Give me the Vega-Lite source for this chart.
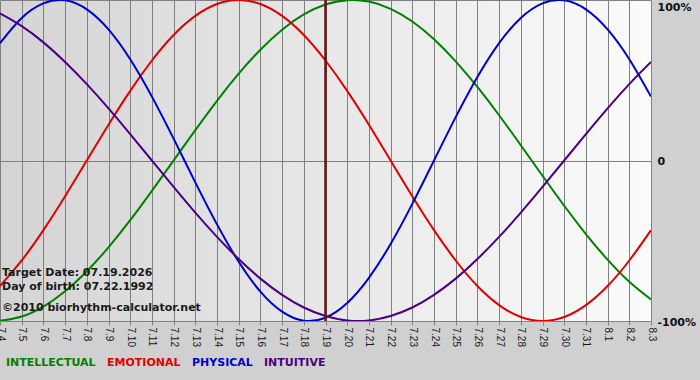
{
  "$schema": "https://vega.github.io/schema/vega-lite/v6.json",
  "width": 651,
  "height": 321,
  "autosize": {"type": "none"},
  "padding": {"left": 0, "top": 0, "right": 49, "bottom": 59},
  "background": "#d0d0d0",
  "config": {
    "view": {
      "stroke": null,
      "fill": {"gradient": "linear", "x1": 0, "x2": 1, "y1": 0, "y2": 0,
        "stops": [{"offset": 0, "color": "#d4d4d4"}, {"offset": 1, "color": "#fbfbfb"}]}
    },
    "font": "DejaVu Sans"
  },
  "data": {
    "values": [
      {"day": "7.4", "INTELLECTUAL": -99.9, "EMOTIONAL": -78.2, "PHYSICAL": 73.1, "INTUITIVE": 91.6},
      {"day": "7.5", "INTELLECTUAL": -97.2, "EMOTIONAL": -62.3, "PHYSICAL": 88.8, "INTUITIVE": 83.7},
      {"day": "7.6", "INTELLECTUAL": -91.0, "EMOTIONAL": -43.4, "PHYSICAL": 97.9, "INTUITIVE": 73.6},
      {"day": "7.7", "INTELLECTUAL": -81.5, "EMOTIONAL": -22.3, "PHYSICAL": 99.8, "INTUITIVE": 61.4},
      {"day": "7.8", "INTELLECTUAL": -69.0, "EMOTIONAL": 0, "PHYSICAL": 94.2, "INTUITIVE": 47.6},
      {"day": "7.9", "INTELLECTUAL": -54.1, "EMOTIONAL": 22.3, "PHYSICAL": 81.7, "INTUITIVE": 32.5},
      {"day": "7.10", "INTELLECTUAL": -37.2, "EMOTIONAL": 43.4, "PHYSICAL": 63.1, "INTUITIVE": 16.5},
      {"day": "7.11", "INTELLECTUAL": -18.9, "EMOTIONAL": 62.3, "PHYSICAL": 39.8, "INTUITIVE": 0},
      {"day": "7.12", "INTELLECTUAL": 0, "EMOTIONAL": 78.2, "PHYSICAL": 13.6, "INTUITIVE": -16.5},
      {"day": "7.13", "INTELLECTUAL": 18.9, "EMOTIONAL": 90.1, "PHYSICAL": -13.6, "INTUITIVE": -32.5},
      {"day": "7.14", "INTELLECTUAL": 37.2, "EMOTIONAL": 97.5, "PHYSICAL": -39.8, "INTUITIVE": -47.6},
      {"day": "7.15", "INTELLECTUAL": 54.1, "EMOTIONAL": 100, "PHYSICAL": -63.1, "INTUITIVE": -61.4},
      {"day": "7.16", "INTELLECTUAL": 69.0, "EMOTIONAL": 97.5, "PHYSICAL": -81.7, "INTUITIVE": -73.6},
      {"day": "7.17", "INTELLECTUAL": 81.5, "EMOTIONAL": 90.1, "PHYSICAL": -94.2, "INTUITIVE": -83.7},
      {"day": "7.18", "INTELLECTUAL": 91.0, "EMOTIONAL": 78.2, "PHYSICAL": -99.8, "INTUITIVE": -91.6},
      {"day": "7.19", "INTELLECTUAL": 97.2, "EMOTIONAL": 62.3, "PHYSICAL": -97.9, "INTUITIVE": -96.9},
      {"day": "7.20", "INTELLECTUAL": 99.9, "EMOTIONAL": 43.4, "PHYSICAL": -88.8, "INTUITIVE": -99.7},
      {"day": "7.21", "INTELLECTUAL": 99.0, "EMOTIONAL": 22.3, "PHYSICAL": -73.1, "INTUITIVE": -99.7},
      {"day": "7.22", "INTELLECTUAL": 94.5, "EMOTIONAL": 0, "PHYSICAL": -52.0, "INTUITIVE": -96.9},
      {"day": "7.23", "INTELLECTUAL": 86.6, "EMOTIONAL": -22.3, "PHYSICAL": -27.0, "INTUITIVE": -91.6},
      {"day": "7.24", "INTELLECTUAL": 75.6, "EMOTIONAL": -43.4, "PHYSICAL": 0, "INTUITIVE": -83.7},
      {"day": "7.25", "INTELLECTUAL": 61.8, "EMOTIONAL": -62.3, "PHYSICAL": 27.0, "INTUITIVE": -73.6},
      {"day": "7.26", "INTELLECTUAL": 45.8, "EMOTIONAL": -78.2, "PHYSICAL": 52.0, "INTUITIVE": -61.4},
      {"day": "7.27", "INTELLECTUAL": 28.2, "EMOTIONAL": -90.1, "PHYSICAL": 73.1, "INTUITIVE": -47.6},
      {"day": "7.28", "INTELLECTUAL": 9.5, "EMOTIONAL": -97.5, "PHYSICAL": 88.8, "INTUITIVE": -32.5},
      {"day": "7.29", "INTELLECTUAL": -9.5, "EMOTIONAL": -100, "PHYSICAL": 97.9, "INTUITIVE": -16.5},
      {"day": "7.30", "INTELLECTUAL": -28.2, "EMOTIONAL": -97.5, "PHYSICAL": 99.8, "INTUITIVE": 0},
      {"day": "7.31", "INTELLECTUAL": -45.8, "EMOTIONAL": -90.1, "PHYSICAL": 94.2, "INTUITIVE": 16.5},
      {"day": "8.1", "INTELLECTUAL": -61.8, "EMOTIONAL": -78.2, "PHYSICAL": 81.7, "INTUITIVE": 32.5},
      {"day": "8.2", "INTELLECTUAL": -75.6, "EMOTIONAL": -62.3, "PHYSICAL": 63.1, "INTUITIVE": 47.6},
      {"day": "8.3", "INTELLECTUAL": -86.6, "EMOTIONAL": -43.4, "PHYSICAL": 39.8, "INTUITIVE": 61.4}
    ]
  },
  "layer": [
    {
      "transform": [{"fold": ["INTELLECTUAL", "EMOTIONAL", "PHYSICAL", "INTUITIVE"], "as": ["series", "value"]}],
      "mark": {"type": "line", "interpolate": "natural", "strokeWidth": 2, "clip": true},
      "encoding": {
        "x": {
          "field": "day", "type": "ordinal",
          "scale": {"type": "point", "padding": 0,
            "domain": ["7.4","7.5","7.6","7.7","7.8","7.9","7.10","7.11","7.12","7.13","7.14","7.15","7.16","7.17","7.18","7.19","7.20","7.21","7.22","7.23","7.24","7.25","7.26","7.27","7.28","7.29","7.30","7.31","8.1","8.2","8.3"]},
          "axis": {
            "title": null, "domain": false, "grid": true, "gridColor": "#808080", "gridWidth": 1, "gridOpacity": 1,
            "ticks": true, "tickColor": "#808080", "tickSize": 4,
            "labelAngle": 90, "labelAlign": "left", "labelBaseline": "middle", "labelPadding": 2,
            "labelFont": "Liberation Sans", "labelFontSize": 10, "labelColor": "#1a1a1a"
          }
        },
        "y": {
          "field": "value", "type": "quantitative",
          "scale": {"domain": [-100, 100], "nice": false, "zero": false},
          "axis": {
            "title": null, "orient": "right", "values": [-100, 0, 100], "domain": false, "ticks": false,
            "grid": true, "gridColor": "#808080", "gridWidth": 1, "gridOpacity": 1,
            "labelExpr": "datum.value == 0 ? '0' : datum.value + '%'",
            "labelFont": "DejaVu Sans", "labelFontWeight": "bold", "labelFontSize": 11, "labelColor": "#111111",
            "labelPadding": 6, "labelBaseline": "middle",
            "labelOffset": {"condition": {"test": "datum.value == 100", "value": 7}, "value": 1}
          }
        },
        "color": {
          "field": "series", "type": "nominal",
          "scale": {"domain": ["INTELLECTUAL", "EMOTIONAL", "PHYSICAL", "INTUITIVE"], "range": ["#008000", "#e00000", "#0000cc", "#4b0082"]},
          "legend": {
            "orient": "none", "legendX": -5, "legendY": 357, "direction": "horizontal", "title": null,
            "symbolType": "circle", "symbolSize": 0, "symbolStrokeWidth": 0, "symbolOpacity": 0, "labelOffset": 0, "columnPadding": 0,
            "labelFont": "DejaVu Sans", "labelFontWeight": "bold", "labelFontSize": 11,
            "labelColor": {"expr": "datum.value == 'INTELLECTUAL' ? '#008000' : datum.value == 'EMOTIONAL' ? '#e00000' : datum.value == 'PHYSICAL' ? '#0000cc' : '#4b0082'"}
          }
        }
      }
    },
    {
      "data": {"values": [{"day": "7.19"}]},
      "mark": {"type": "rule", "color": "#6a1515", "strokeWidth": 2.5},
      "encoding": {"x": {"field": "day", "type": "ordinal"}}
    },
    {
      "data": {"values": [{"t": "Target Date: 07.19.2026"}]},
      "mark": {"type": "text", "align": "left", "baseline": "alphabetic", "dx": 2, "font": "DejaVu Sans", "fontWeight": "bold", "fontSize": 11, "color": "#1a1a1a"},
      "encoding": {"x": {"datum": "7.4", "type": "ordinal"}, "y": {"datum": -72, "type": "quantitative"}, "text": {"field": "t"}}
    },
    {
      "data": {"values": [{"t": "Day of birth: 07.22.1992"}]},
      "mark": {"type": "text", "align": "left", "baseline": "alphabetic", "dx": 2, "font": "DejaVu Sans", "fontWeight": "bold", "fontSize": 11, "color": "#1a1a1a"},
      "encoding": {"x": {"datum": "7.4", "type": "ordinal"}, "y": {"datum": -80.7, "type": "quantitative"}, "text": {"field": "t"}}
    },
    {
      "data": {"values": [{"t": "©2010 biorhythm-calculator.net"}]},
      "mark": {"type": "text", "align": "left", "baseline": "alphabetic", "dx": 2, "font": "DejaVu Sans", "fontWeight": "bold", "fontSize": 11, "color": "#1a1a1a"},
      "encoding": {"x": {"datum": "7.4", "type": "ordinal"}, "y": {"datum": -93.6, "type": "quantitative"}, "text": {"field": "t"}}
    }
  ]
}
